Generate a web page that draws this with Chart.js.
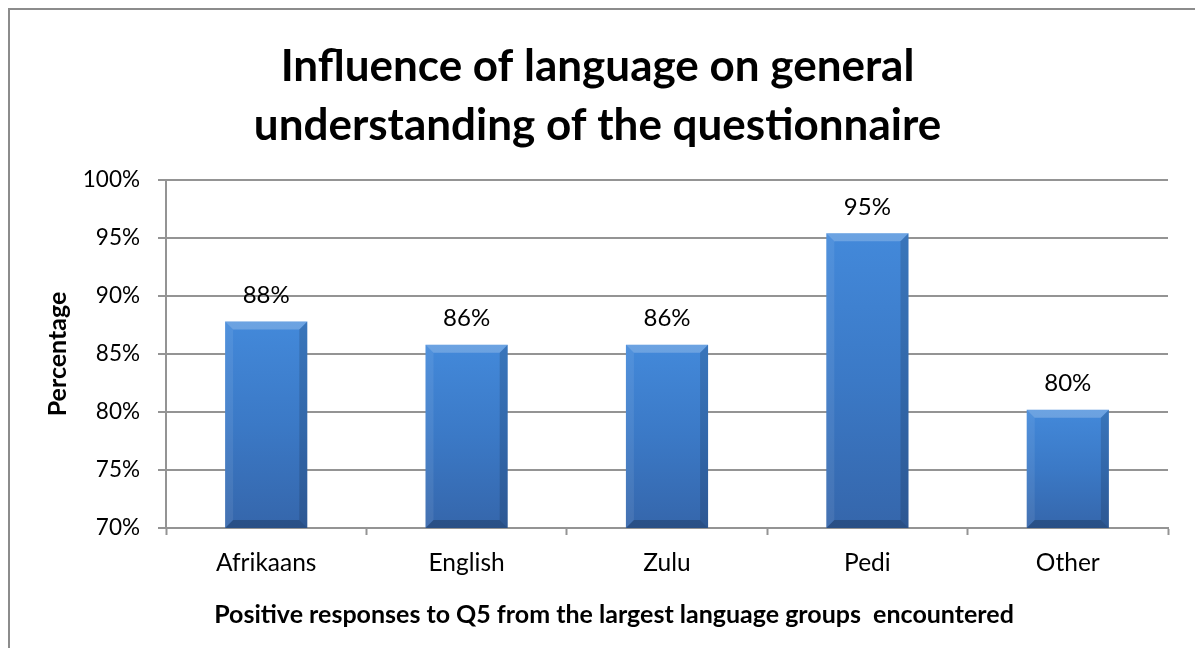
<!DOCTYPE html>
<html>
<head>
<meta charset="utf-8">
<script src="https://cdn.jsdelivr.net/npm/chart.js@4/dist/chart.umd.min.js"></script>
<style>
  html, body { margin: 0; padding: 0; background: #ffffff; overflow: hidden; }
  #wrap { position: relative; width: 1195px; height: 648px; }
</style>
</head>
<body>
<div id="wrap"><canvas id="c" width="1195" height="648"></canvas></div>
<script>
// Survey results: share of positive answers to Q5 per language group
const languages = ['Afrikaans', 'English', 'Zulu', 'Pedi', 'Other'];
const positiveShare = [87.8, 85.8, 85.8, 95.4, 80.2];
const yTickValues = [70, 75, 80, 85, 90, 95, 100];
const titleLines = ['Influence of language on general', 'understanding of the questionnaire'];
const xCaption = 'Positive responses to Q5 from the largest language groups  encountered';
const yCaption = 'Percentage';

const FONT = 'Lato, "Open Sans", sans-serif';
const GRID = '#949494';

// Outer frame of the chart box
const framePlugin = {
  id: 'frame',
  beforeDraw(chart) {
    const ctx = chart.ctx;
    ctx.save();
    ctx.strokeStyle = '#8c8c8c';
    ctx.lineWidth = 2;
    ctx.strokeRect(9, 9, chart.width + 40, chart.height + 40);
    ctx.restore();
  }
};

// Bevelled edges on each column
const bevelPlugin = {
  id: 'bevel',
  afterDatasetsDraw(chart) {
    const ctx = chart.ctx;
    const area = chart.chartArea;
    const meta = chart.getDatasetMeta(0);
    ctx.save();
    ctx.beginPath();
    ctx.rect(area.left, area.top, area.right - area.left, area.bottom - area.top);
    ctx.clip();
    meta.data.forEach(bar => {
      const l = bar.x - bar.width / 2, r = bar.x + bar.width / 2;
      const t = bar.y, b = Math.min(bar.base, area.bottom);
      const s = 8;
      const poly = (pts, fill) => {
        ctx.beginPath();
        ctx.moveTo(pts[0][0], pts[0][1]);
        for (let i = 1; i < pts.length; i++) ctx.lineTo(pts[i][0], pts[i][1]);
        ctx.closePath();
        ctx.fillStyle = fill;
        ctx.fill();
      };
      poly([[l, t], [r, t], [r - s, t + s], [l + s, t + s]], 'rgba(255,255,255,0.22)');
      poly([[l, t], [l + s, t + s], [l + s, b - s], [l, b]], 'rgba(255,255,255,0.08)');
      poly([[r, t], [r, b], [r - s, b - s], [r - s, t + s]], 'rgba(0,0,0,0.14)');
      poly([[l, b], [r, b], [r - s, b - s], [l + s, b - s]], 'rgba(0,0,0,0.22)');
    });
    ctx.restore();
  }
};

// Value labels above the columns
const valueLabelPlugin = {
  id: 'valueLabels',
  afterDatasetsDraw(chart) {
    const ctx = chart.ctx;
    const meta = chart.getDatasetMeta(0);
    const values = chart.data.datasets[0].data;
    ctx.save();
    ctx.font = '24px ' + FONT;
    ctx.fillStyle = '#000000';
    ctx.textAlign = 'center';
    ctx.textBaseline = 'middle';
    meta.data.forEach((bar, i) => {
      ctx.fillText(Math.round(values[i]) + '%', bar.x, bar.y - 26);
    });
    ctx.restore();
  }
};

// Caption under the category axis
const xCaptionPlugin = {
  id: 'xCaption',
  afterDraw(chart) {
    const ctx = chart.ctx;
    const area = chart.chartArea;
    ctx.save();
    ctx.font = 'bold 25px ' + FONT;
    ctx.fillStyle = '#000000';
    ctx.textAlign = 'center';
    ctx.textBaseline = 'middle';
    ctx.fillText(xCaption, (area.left + area.right) / 2 - 53, area.bottom + 87);
    ctx.restore();
  }
};

function barFill(context) {
  const chart = context.chart;
  if (!chart.chartArea || context.parsed === undefined) return '#3d78c4';
  const y = chart.scales.y;
  const top = y.getPixelForValue(context.parsed.y);
  const bottom = y.getPixelForValue(y.min);
  const g = chart.ctx.createLinearGradient(0, top, 0, bottom);
  g.addColorStop(0, '#4389da');
  g.addColorStop(0.5, '#3b79c6');
  g.addColorStop(1, '#3566ab');
  return g;
}

new Chart(document.getElementById('c'), {
  type: 'bar',
  data: {
    labels: languages,
    datasets: [{
      data: positiveShare,
      backgroundColor: barFill,
      borderWidth: 0,
      categoryPercentage: 1,
      barPercentage: 0.41
    }]
  },
  options: {
    responsive: false,
    animation: false,
    events: [],
    layout: { padding: 0 },
    plugins: {
      legend: { display: false },
      tooltip: { enabled: false },
      title: {
        display: true,
        text: titleLines,
        color: '#000000',
        font: { family: FONT, size: 44, weight: 'bold', lineHeight: 1.34 },
        padding: { top: 37, bottom: 25 }
      }
    },
    scales: {
      x: {
        grid: {
          display: true,
          drawOnChartArea: false,
          drawTicks: true,
          tickLength: 7,
          tickColor: GRID,
          tickWidth: 2
        },
        border: { display: true, color: GRID, width: 2 },
        ticks: {
          color: '#000000',
          font: { family: FONT, size: 24.5 },
          padding: 13,
          maxRotation: 0
        },
        afterFit(scale) { scale.height = 120; }
      },
      y: {
        min: 70,
        max: 100,
        afterBuildTicks(scale) { scale.ticks = yTickValues.map(v => ({ value: v })); },
        grid: {
          color: GRID,
          lineWidth: 2,
          drawTicks: true,
          tickLength: 8,
          tickColor: GRID
        },
        border: { display: true, color: GRID, width: 2 },
        ticks: {
          color: '#000000',
          font: { family: FONT, size: 22.5 },
          padding: 18,
          callback: v => v + '%'
        },
        title: {
          display: true,
          text: yCaption,
          color: '#000000',
          font: { family: FONT, size: 25, weight: 'bold', lineHeight: 1.2 },
          padding: { top: 43, bottom: 0 }
        },
        afterFit(scale) { scale.width = 166; }
      },
      // empty margin on the right of the plot area
      rightMargin: {
        type: 'linear',
        position: 'right',
        display: true,
        grid: { display: false, drawTicks: false },
        border: { display: false },
        ticks: { display: false },
        afterFit(scale) { scale.width = 27; }
      }
    }
  },
  plugins: [framePlugin, bevelPlugin, valueLabelPlugin, xCaptionPlugin]
});
</script>
</body>
</html>
